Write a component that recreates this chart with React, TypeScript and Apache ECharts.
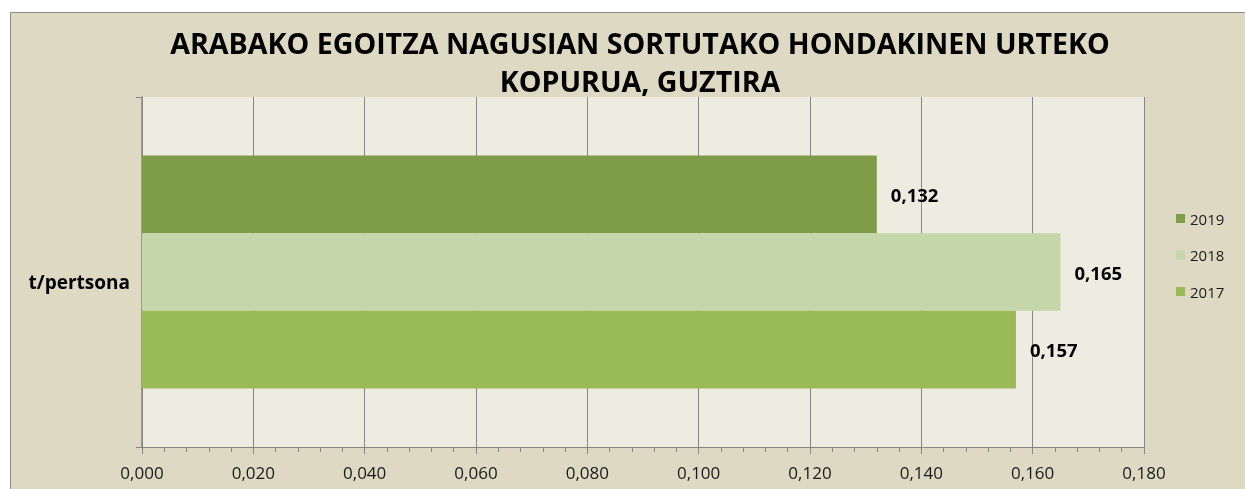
import React, { useEffect, useRef } from "react";
import * as echarts from "echarts";

const titleLines = [
  "ARABAKO EGOITZA NAGUSIAN SORTUTAKO HONDAKINEN URTEKO",
  "KOPURUA, GUZTIRA",
];
const categories = ["t/pertsona"];
const seriesNames = ["2019", "2018", "2017"];
const seriesValues = [[0.132], [0.165], [0.157]];
const seriesColors = ["#7f9c49", "#c4d6aa", "#9bbb59"];
const xMin = 0;
const xMax = 0.18;
const xInterval = 0.02;

const FONT = "'Open Sans', 'Noto Sans', sans-serif";
const fmt = (v: number) => v.toFixed(3).replace(".", ",");

export default function App() {
  const ref = useRef<HTMLDivElement>(null);
  useEffect(() => {
    if (!ref.current) return;
    const chart = echarts.init(ref.current, null, { renderer: "svg" });
    chart.setOption({
      animation: false,
      backgroundColor: "transparent",
      textStyle: { fontFamily: FONT },
      graphic: [
        {
          type: "rect",
          z: -10,
          silent: true,
          shape: { x: 10.5, y: 12.5, width: 1300, height: 600 },
          style: { fill: "#ddd9c3", stroke: "#8c8c8c", lineWidth: 1 },
        },
        ...titleLines.map((t, i) => ({
          type: "text",
          x: 640,
          y: 42 + i * 38,
          style: {
            text: t,
            fill: "#000",
            font: `bold 28.6px ${FONT}`,
            textAlign: "center",
            textVerticalAlign: "middle",
          },
        })),
      ],
      grid: {
        left: 142,
        top: 97,
        width: 1002,
        height: 350,
        show: true,
        backgroundColor: "#eeece1",
        borderWidth: 0,
        containLabel: false,
      },
      legend: {
        data: seriesNames,
        orient: "vertical",
        left: 1171,
        top: 206,
        icon: "rect",
        itemWidth: 9,
        itemHeight: 9,
        itemGap: 21.5,
        textStyle: { fontSize: 15, color: "#1a1a1a", fontFamily: FONT },
      },
      xAxis: {
        type: "value",
        min: xMin,
        max: xMax,
        interval: xInterval,
        axisLine: { show: true, lineStyle: { color: "#868686", width: 1 } },
        axisTick: { show: true, length: 7, lineStyle: { color: "#868686" } },
        minorTick: { show: true, splitNumber: 5, length: 5, lineStyle: { color: "#868686" } },
        splitLine: { show: true, lineStyle: { color: "#868686", width: 1 } },
        axisLabel: {
          formatter: (v: number) => fmt(v),
          fontSize: 17,
          color: "#1a1a1a",
          margin: 17,
          fontFamily: FONT,
        },
      },
      yAxis: {
        type: "category",
        data: categories,
        axisLine: { show: true, lineStyle: { color: "#868686", width: 1.5 } },
        axisTick: { show: true, length: 6, lineStyle: { color: "#868686" } },
        axisLabel: {
          fontSize: 19,
          fontWeight: "bold",
          color: "#000",
          margin: 12,
          verticalAlign: "top",
          fontFamily: FONT,
        },
      },
      series: seriesNames.map((name, i) => ({
        name,
        type: "bar",
        data: seriesValues[i],
        barGap: "0%",
        barCategoryGap: "33.4%",
        itemStyle: { color: seriesColors[i] },
        label: {
          show: true,
          position: "right",
          distance: 14,
          formatter: (p: any) => fmt(p.value),
          fontSize: 18.5,
          fontWeight: "bold",
          color: "#000",
          fontFamily: FONT,
        },
      })),
    });
    return () => chart.dispose();
  }, []);
  return (
    <div
      ref={ref}
      style={{ position: "fixed", left: 0, top: 0, width: 1245, height: 489 }}
    />
  );
}
